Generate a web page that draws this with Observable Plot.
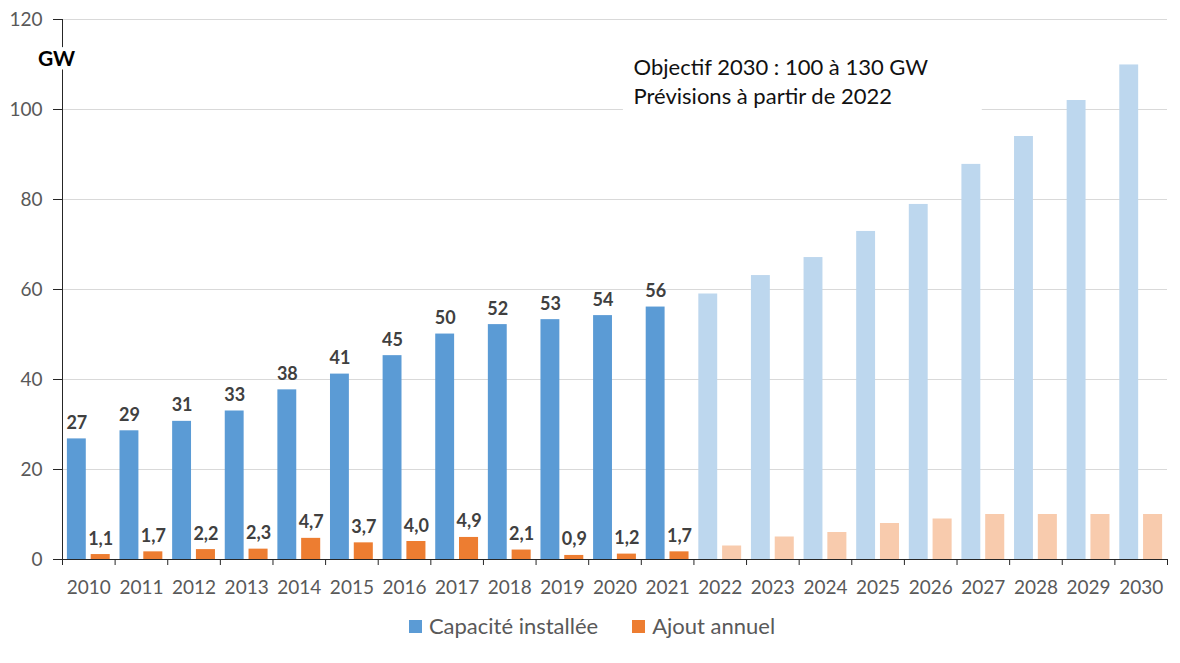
<!DOCTYPE html>
<html><head><meta charset="utf-8">
<script src="https://cdn.jsdelivr.net/npm/d3@7"></script>
<script src="https://cdn.jsdelivr.net/npm/@observablehq/plot@0.6"></script>
<style>
body{margin:0;background:#fff;font-family:Lato,"Open Sans",sans-serif;}
#legend{display:flex;justify-content:center;gap:34px;margin-top:13px;font-size:22px;color:#595959;line-height:26px;padding-left:4px;}
.item{display:flex;align-items:center;gap:7px}
.sw{width:13px;height:13px;display:inline-block}
</style></head><body>
<div id="chart"></div>
<div id="legend"></div>
<script>
const years = [2010,2011,2012,2013,2014,2015,2016,2017,2018,2019,2020,2021,2022,2023,2024,2025,2026,2027,2028,2029,2030];
const capacity = [26.8,28.6,30.7,33.0,37.7,41.2,45.3,50.1,52.2,53.3,54.2,56.1,59.0,63.1,67.1,72.9,78.9,87.8,94.0,102.0,109.9];
const annual = [1.1,1.7,2.2,2.3,4.7,3.7,4.0,4.9,2.1,0.9,1.2,1.7,3,5,6,8,9,10,10,10,10];
const forecastStart = 2022;
const yTicks = [0,20,40,60,80,100,120];
const seriesNames = ["Capacité installée","Ajout annuel"];
const colorsActual = ["#5B9BD5","#ED7D31"];
const colorsForecast = ["#BDD7EE","#F8CBAD"];
const noteText = "Objectif 2030 : 100 à 130 GW\nPrévisions à partir de 2022";
const unitLabel = "GW";

const rows = years.map((year,i)=>({year, cap: capacity[i], add: annual[i], forecast: year >= forecastStart}));
const actual = rows.filter(d => !d.forecast);
const boundaries = d3.range(years[0]-0.5, years[years.length-1]+1, 1);

// bar placement within each year band (fractions of band)
const capL = 0.093, capR = 0.452, addL = 0.545, addR = 0.907;
const dark = "#262626", tickGray = "#595959";

const chart = Plot.plot({
  width: 1180, height: 600,
  marginLeft: 62, marginRight: 13, marginTop: 19, marginBottom: 41,
  style: {fontFamily: "Lato, 'Open Sans', sans-serif", background: "#fff"},
  x: {domain: [years[0]-0.5, years[years.length-1]+0.5]},
  y: {domain: [0, 120]},
  marks: [
    Plot.ruleY(yTicks.slice(1), {stroke: "#D9D9D9"}),
    Plot.rect([0], {x1: years[0]-0.5+10.66, x2: years[0]-0.5+17.48, y1: 98.4, y2: 114.2, fill: "#fff"}),
    Plot.rect(rows, {x1: d => d.year-0.5+capL, x2: d => d.year-0.5+capR, y1: 0, y2: "cap",
      fill: d => d.forecast ? colorsForecast[0] : colorsActual[0]}),
    Plot.rect(rows, {x1: d => d.year-0.5+addL, x2: d => d.year-0.5+addR, y1: 0, y2: "add",
      fill: d => d.forecast ? colorsForecast[1] : colorsActual[1]}),
    Plot.text(actual, {x: d => d.year-0.5+(capL+capR)/2, y: "cap", text: d => d.cap.toFixed(0),
      dy: -10, lineAnchor: "bottom", fontWeight: "bold", fontSize: 18, fill: "#404040"}),
    Plot.text(actual, {x: d => d.year-0.5+(addL+addR)/2, y: "add", text: d => d.add.toFixed(1).replace(".", ","),
      dy: -10, lineAnchor: "bottom", fontWeight: "bold", fontSize: 18, fill: "#404040"}),
    Plot.ruleY([0], {stroke: dark}),
    Plot.ruleX([years[0]-0.5], {stroke: dark}),
    Plot.axisY({ticks: yTicks, tickSize: 9, tickPadding: 11, fontSize: 19, fill: tickGray, stroke: dark, label: null}),
    Plot.axisX({ticks: years, tickSize: 0, tickPadding: 21, fontSize: 19, fill: tickGray, tickFormat: d => String(d), label: null}),
    Plot.axisX({ticks: boundaries, tickSize: 6, tickFormat: () => "", stroke: dark, label: null}),
    Plot.text([unitLabel], {x: years[0]-0.5-0.114, y: 109.6, text: d => d, lineAnchor: "bottom",
      fontWeight: "bold", fontSize: 21, fill: "#000", stroke: "#fff", strokeWidth: 8, paintOrder: "stroke"}),
    Plot.text([noteText], {x: years[0]-0.5+10.852, y: 101.3, text: d => d, textAnchor: "start", lineAnchor: "bottom",
      lineHeight: 1.3, fontSize: 22, fill: "#111"})
  ]
});
document.getElementById("chart").appendChild(chart);

const legend = document.getElementById("legend");
seriesNames.forEach((name, i) => {
  const item = document.createElement("div");
  item.className = "item";
  item.innerHTML = `<span class="sw" style="background:${colorsActual[i]}"></span><span>${name}</span>`;
  legend.appendChild(item);
});
</script>
</body></html>
